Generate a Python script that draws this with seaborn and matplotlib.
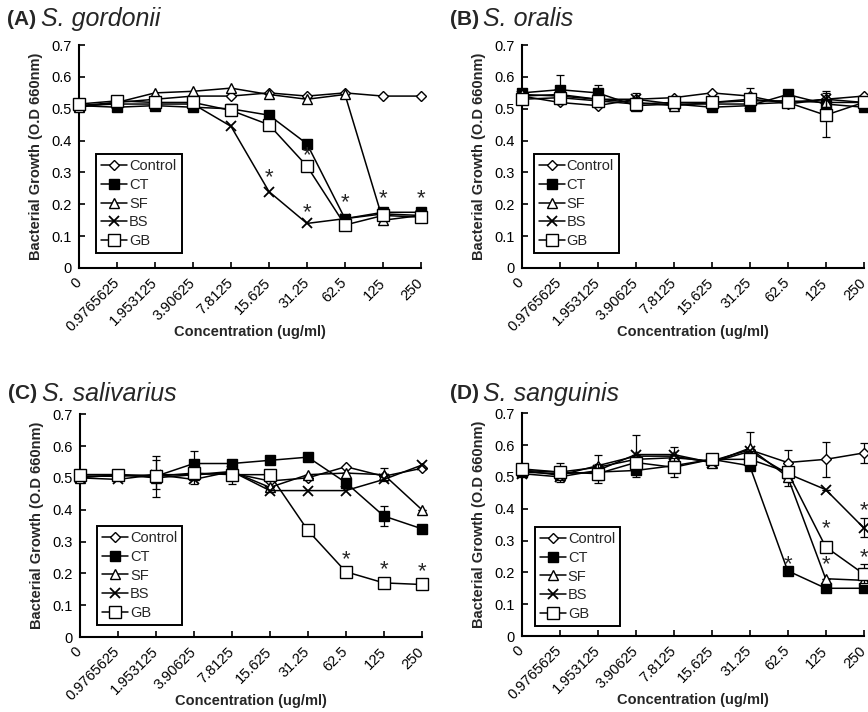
import numpy as np
import pandas as pd
import seaborn as sns
import matplotlib.pyplot as plt

conc = ["0", "0.9765625", "1.953125", "3.90625", "7.8125",
        "15.625", "31.25", "62.5", "125", "250"]
groups = ["Control", "CT", "SF", "BS", "GB"]

# optical density, one list per extract
gordonii = {
    "Control": [0.51, 0.52, 0.53, 0.54, 0.54, 0.55, 0.54, 0.55, 0.54, 0.54],
    "CT":      [0.51, 0.505, 0.51, 0.505, 0.50, 0.48, 0.39, 0.155, 0.175, 0.175],
    "SF":      [0.505, 0.52, 0.55, 0.555, 0.565, 0.545, 0.53, 0.545, 0.15, 0.165],
    "BS":      [0.51, 0.515, 0.515, 0.515, 0.445, 0.24, 0.14, 0.155, 0.17, 0.165],
    "GB":      [0.515, 0.525, 0.52, 0.52, 0.495, 0.45, 0.32, 0.135, 0.165, 0.16],
}
oralis = {
    "Control": [0.54, 0.52, 0.51, 0.53, 0.535, 0.55, 0.54, 0.515, 0.53, 0.54],
    "CT":      [0.55, 0.56, 0.55, 0.51, 0.515, 0.505, 0.51, 0.545, 0.515, 0.505],
    "SF":      [0.545, 0.54, 0.53, 0.52, 0.51, 0.52, 0.525, 0.525, 0.52, 0.52],
    "BS":      [0.54, 0.545, 0.53, 0.53, 0.515, 0.515, 0.515, 0.52, 0.53, 0.52],
    "GB":      [0.53, 0.535, 0.525, 0.515, 0.52, 0.52, 0.53, 0.52, 0.48, 0.52],
}
salivarius = {
    "Control": [0.505, 0.505, 0.51, 0.51, 0.515, 0.49, 0.50, 0.535, 0.505, 0.53],
    "CT":      [0.51, 0.51, 0.505, 0.545, 0.545, 0.555, 0.565, 0.485, 0.38, 0.34],
    "SF":      [0.50, 0.51, 0.50, 0.51, 0.52, 0.47, 0.51, 0.515, 0.51, 0.40],
    "BS":      [0.50, 0.495, 0.51, 0.495, 0.52, 0.46, 0.46, 0.46, 0.495, 0.54],
    "GB":      [0.51, 0.51, 0.505, 0.515, 0.51, 0.51, 0.335, 0.205, 0.17, 0.165],
}
sanguinis = {
    "Control": [0.52, 0.515, 0.53, 0.555, 0.56, 0.55, 0.585, 0.545, 0.555, 0.575],
    "CT":      [0.515, 0.51, 0.515, 0.52, 0.535, 0.555, 0.535, 0.205, 0.15, 0.15],
    "SF":      [0.52, 0.505, 0.535, 0.565, 0.565, 0.545, 0.59, 0.50, 0.18, 0.175],
    "BS":      [0.51, 0.50, 0.52, 0.57, 0.57, 0.545, 0.58, 0.51, 0.46, 0.34],
    "GB":      [0.525, 0.515, 0.51, 0.545, 0.53, 0.555, 0.555, 0.515, 0.28, 0.195],
}

# standard deviations that show outside the markers
gordonii_err = {}
oralis_err = {
    "Control": [0, 0, 0, 0, 0, 0, 0.025, 0, 0, 0],
    "CT":      [0, 0.045, 0.025, 0, 0, 0, 0, 0, 0, 0],
    "BS":      [0, 0, 0, 0.02, 0, 0, 0, 0, 0.025, 0],
    "GB":      [0, 0, 0, 0, 0, 0, 0, 0, 0.07, 0],
}
salivarius_err = {
    "Control": [0, 0, 0.045, 0, 0, 0, 0, 0, 0, 0],
    "CT":      [0, 0, 0, 0.04, 0, 0, 0, 0, 0.03, 0],
    "GB":      [0, 0, 0.065, 0, 0.03, 0, 0, 0, 0, 0],
    "SF":      [0, 0, 0, 0.03, 0, 0, 0, 0, 0.02, 0],
}
sanguinis_err = {
    "Control": [0, 0.03, 0.04, 0, 0, 0, 0, 0.04, 0.055, 0.03],
    "SF":      [0, 0, 0, 0.065, 0.03, 0, 0.05, 0.03, 0, 0],
    "BS":      [0, 0, 0, 0, 0, 0, 0, 0, 0, 0.03],
    "GB":      [0, 0, 0.03, 0, 0.03, 0, 0, 0, 0, 0.03],
}

# significance marks (concentration index, height)
gordonii_stars = [(5, 0.284), (6, 0.353), (6, 0.175), (7, 0.206), (8, 0.218), (9, 0.218)]
oralis_stars = []
salivarius_stars = [(7, 0.242), (8, 0.21), (9, 0.205)]
sanguinis_stars = [(7, 0.225), (8, 0.336), (8, 0.225), (9, 0.394), (9, 0.247)]

panels = [
    ("(A)", "S. gordonii", gordonii, gordonii_err, gordonii_stars),
    ("(B)", "S. oralis", oralis, oralis_err, oralis_stars),
    ("(C)", "S. salivarius", salivarius, salivarius_err, salivarius_stars),
    ("(D)", "S. sanguinis", sanguinis, sanguinis_err, sanguinis_stars),
]

styles = {
    "Control": dict(marker="D", markersize=5, markerfacecolor="white", markeredgewidth=1.0),
    "CT": dict(marker="s", markersize=6.5, markerfacecolor="black", markeredgewidth=1.0),
    "SF": dict(marker="^", markersize=7.5, markerfacecolor="white", markeredgewidth=1.0),
    "BS": dict(marker="x", markersize=7, markeredgewidth=1.3),
    "GB": dict(marker="s", markersize=8, markerfacecolor="white", markeredgewidth=1.0),
}

sns.set_theme(style="ticks")
plt.rcParams["font.family"] = ["Liberation Sans", "DejaVu Sans"]

fig = plt.figure(figsize=(8.68, 7.12), dpi=100)

# left, bottom of each axes (figure fraction) + legend anchor
boxes = [
    (0.091, 0.6236, (0.05, 0.067)),
    (0.601, 0.6236, (0.035, 0.067)),
    (0.092, 0.1053, (0.05, 0.054)),
    (0.601, 0.1067, (0.038, 0.045)),
]
titles_y = [0.973, 0.973, 0.447, 0.447]

for (tag, species, data, errs, stars), (l, b, leg_xy), ty in zip(panels, boxes, titles_y):
    ax = fig.add_axes([l, b, 0.394, 0.313])
    long = pd.DataFrame([
        {"x": i, "od": v, "group": g}
        for g in groups for i, v in enumerate(data[g])
    ])
    for z, g in enumerate(groups):
        sub = long[long["group"] == g]
        if g in errs:
            ax.errorbar(sub["x"], sub["od"], yerr=errs[g], fmt="none", ecolor="black",
                        elinewidth=0.9, capsize=3, capthick=0.9, zorder=2 + z, clip_on=False)
        sns.lineplot(data=sub, x="x", y="od", ax=ax, color="black", lw=1.1,
                     markeredgecolor="black", label=g, zorder=3 + z, clip_on=False,
                     **styles[g])
    for xi, yv in stars:
        ax.text(xi, yv, "*", ha="center", va="center", fontsize=16, zorder=20)

    ax.set_xlim(0, 9)
    ax.set_ylim(0, 0.7)
    ax.set_xticks(range(len(conc)))
    ax.set_xticklabels(conc, rotation=45, ha="right", va="center",
                       rotation_mode="anchor", fontsize=10.5)
    yt = np.round(np.arange(0, 0.71, 0.1), 1)
    ax.set_yticks(yt)
    ax.set_yticklabels(["0"] + [f"{v:.1f}" for v in yt[1:]], fontsize=10.5)
    ax.tick_params(direction="in", length=4, width=1.2, colors="black", pad=5)
    ax.tick_params(axis="x", pad=9)
    for s in ["top", "right"]:
        ax.spines[s].set_visible(False)
    for s in ["left", "bottom"]:
        ax.spines[s].set_linewidth(1.5)
        ax.spines[s].set_color("black")

    ax.set_xlabel("Concentration (ug/ml)", fontsize=10.5, fontweight="bold")
    ax.xaxis.set_label_coords(0.5, -0.255)
    ax.set_ylabel("Bacterial Growth (O.D 660nm)", fontsize=10.5, fontweight="bold")
    ax.yaxis.set_label_coords(-0.105, 0.5)

    leg = ax.legend(loc="lower left", bbox_to_anchor=leg_xy, frameon=True, fancybox=False,
                    edgecolor="black", framealpha=1, fontsize=10.5, handlelength=1.8,
                    handletextpad=0.12, labelspacing=0.32, borderpad=0.35,
                    borderaxespad=0)
    leg.get_frame().set_linewidth(1.4)

    fx = l - 0.083
    fig.text(fx, ty, tag, fontsize=15, fontweight="bold", va="center", ha="left")
    fig.text(fx + 0.039, ty, species, fontsize=18, fontstyle="italic", va="center", ha="left")

fig.savefig("out.png", dpi=100)
